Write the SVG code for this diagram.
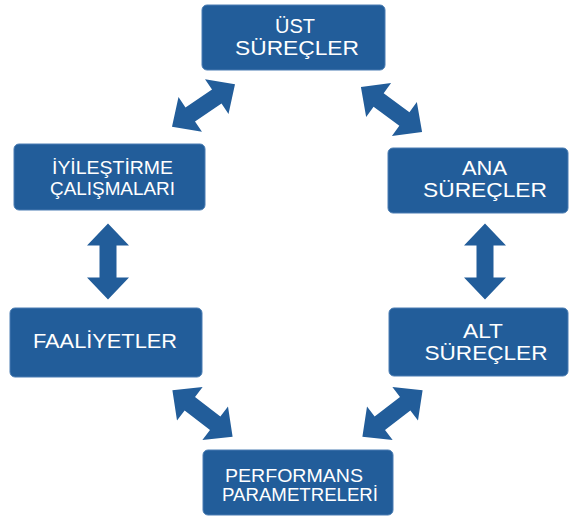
<svg xmlns="http://www.w3.org/2000/svg" width="570" height="520" viewBox="0 0 570 520">
<style>
.box{fill:#225d9a;stroke:#4a7db3;stroke-width:1}
.t{fill:#ffffff;font-family:"Liberation Sans",Arial,sans-serif;text-anchor:middle}
.arr{fill:#225d9a}
</style>
<defs>
<path id="dbl" d="M -38 0 L -16 -21 L -16 -8.5 L 16 -8.5 L 16 -21 L 38 0 L 16 21 L 16 8.5 L -16 8.5 L -16 21 Z"/>
</defs>
<rect x="0" y="0" width="570" height="520" fill="#ffffff"/>
<g id="connectors" class="arr">
<use href="#dbl" transform="translate(203.5,105.5) rotate(-34)"/>
<use href="#dbl" transform="translate(391.5,109.5) rotate(36.4)"/>
<use href="#dbl" transform="translate(108,261.5) rotate(90)"/>
<use href="#dbl" transform="translate(485,261.5) rotate(90)"/>
<use href="#dbl" transform="translate(202.5,413.5) rotate(37.6)"/>
<use href="#dbl" transform="translate(392.5,413.5) rotate(-37.6)"/>
</g>
<g id="ust">
<rect class="box" x="202" y="5" width="183" height="65" rx="5"/>
<text class="t" x="295" y="33" font-size="21" textLength="40" lengthAdjust="spacingAndGlyphs">ÜST</text>
<text class="t" x="297" y="54.5" font-size="21" textLength="124" lengthAdjust="spacingAndGlyphs">SÜREÇLER</text>
</g>
<g id="iyilestirme">
<rect class="box" x="14" y="144" width="191" height="66" rx="5"/>
<text class="t" x="112.5" y="174" font-size="19" textLength="121" lengthAdjust="spacingAndGlyphs">İYİLEŞTİRME</text>
<text class="t" x="112.5" y="195" font-size="19" textLength="125" lengthAdjust="spacingAndGlyphs">ÇALIŞMALARI</text>
</g>
<g id="ana">
<rect class="box" x="388" y="148" width="180" height="65" rx="5"/>
<text class="t" x="484.5" y="175" font-size="21" textLength="45" lengthAdjust="spacingAndGlyphs">ANA</text>
<text class="t" x="485" y="197" font-size="21" textLength="124" lengthAdjust="spacingAndGlyphs">SÜREÇLER</text>
</g>
<g id="faaliyetler">
<rect class="box" x="10" y="308" width="192" height="69" rx="5"/>
<text class="t" x="105" y="348" font-size="21" textLength="144" lengthAdjust="spacingAndGlyphs">FAALİYETLER</text>
</g>
<g id="alt">
<rect class="box" x="389" y="308" width="179" height="68" rx="5"/>
<text class="t" x="483" y="338" font-size="21" textLength="40" lengthAdjust="spacingAndGlyphs">ALT</text>
<text class="t" x="486" y="360" font-size="21" textLength="123" lengthAdjust="spacingAndGlyphs">SÜREÇLER</text>
</g>
<g id="performans">
<rect class="box" x="203" y="450" width="190" height="65" rx="5"/>
<text class="t" x="294" y="482" font-size="18" textLength="138" lengthAdjust="spacingAndGlyphs">PERFORMANS</text>
<text class="t" x="300" y="501" font-size="18" textLength="156" lengthAdjust="spacingAndGlyphs">PARAMETRELERİ</text>
</g>
</svg>
